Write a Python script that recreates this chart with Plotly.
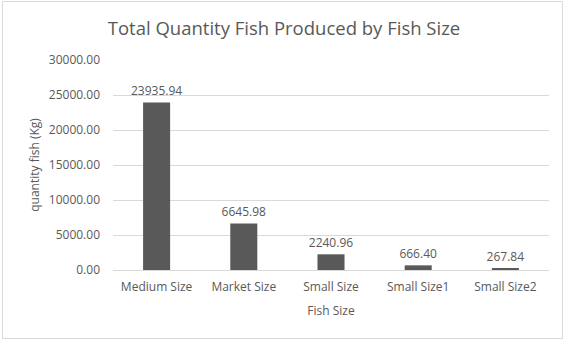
import plotly.graph_objects as go

categories = ["Medium Size", "Market Size", "Small Size", "Small Size1", "Small Size2"]
values = [23935.94, 6645.98, 2240.96, 666.40, 267.84]
tick_vals = [0, 5000, 10000, 15000, 20000, 25000, 30000]
tick_text = [f"{v:.2f}" for v in tick_vals]

W, H = 565, 340
ml, mr, mt, mb = 113, 16, 60, 70
pw, ph = W - ml - mr, H - mt - mb

def px(x):
    return (x - ml) / pw

def py(y):
    return (H - mb - y) / ph

font = "Open Sans, Calibri, sans-serif"
gray = "#595959"

fig = go.Figure(go.Bar(
    x=categories, y=values,
    marker=dict(color="#595959", line=dict(width=0)),
    width=0.31,
    text=[f"{v:.2f}" for v in values],
    textposition="outside",
    textangle=0,
    constraintext="none",
    textfont=dict(size=12, color=gray, family=font),
    cliponaxis=False,
))

fig.update_layout(
    width=W, height=H,
    margin=dict(l=ml, r=mr, t=mt, b=mb),
    paper_bgcolor="white", plot_bgcolor="white",
    showlegend=False,
    title=dict(text="Total Quantity Fish Produced by Fish Size",
               x=px(284), xanchor="center", xref="paper",
               y=1 - 29 / H, yanchor="middle", yref="container",
               font=dict(size=18.5, color=gray, family=font)),
    font=dict(family=font, color=gray, size=12),
    bargap=0.69,
    shapes=[dict(type="rect", xref="paper", yref="paper",
                 x0=px(2.5), x1=px(562.5), y0=py(1.5), y1=py(338.5),
                 line=dict(color="#d9d9d9", width=1), fillcolor="rgba(0,0,0,0)",
                 layer="below")],
)

fig.update_xaxes(
    title=dict(text="Fish Size", font=dict(size=12, color=gray, family=font), standoff=12),
    tickfont=dict(size=12, color=gray, family=font),
    ticklabelstandoff=6,
    showline=True, linecolor="#d9d9d9", linewidth=1,
    showgrid=False, ticks="",
)
fig.update_yaxes(
    title=dict(text="quantity fish (Kg)", font=dict(size=12, color=gray, family=font), standoff=6),
    range=[0, 30000],
    tickvals=tick_vals, ticktext=tick_text,
    tickfont=dict(size=12, color=gray, family=font),
    ticklabelstandoff=12,
    showgrid=True, gridcolor="#d9d9d9", gridwidth=1,
    zeroline=False, showline=False, ticks="",
)

fig.write_html("out.html")
